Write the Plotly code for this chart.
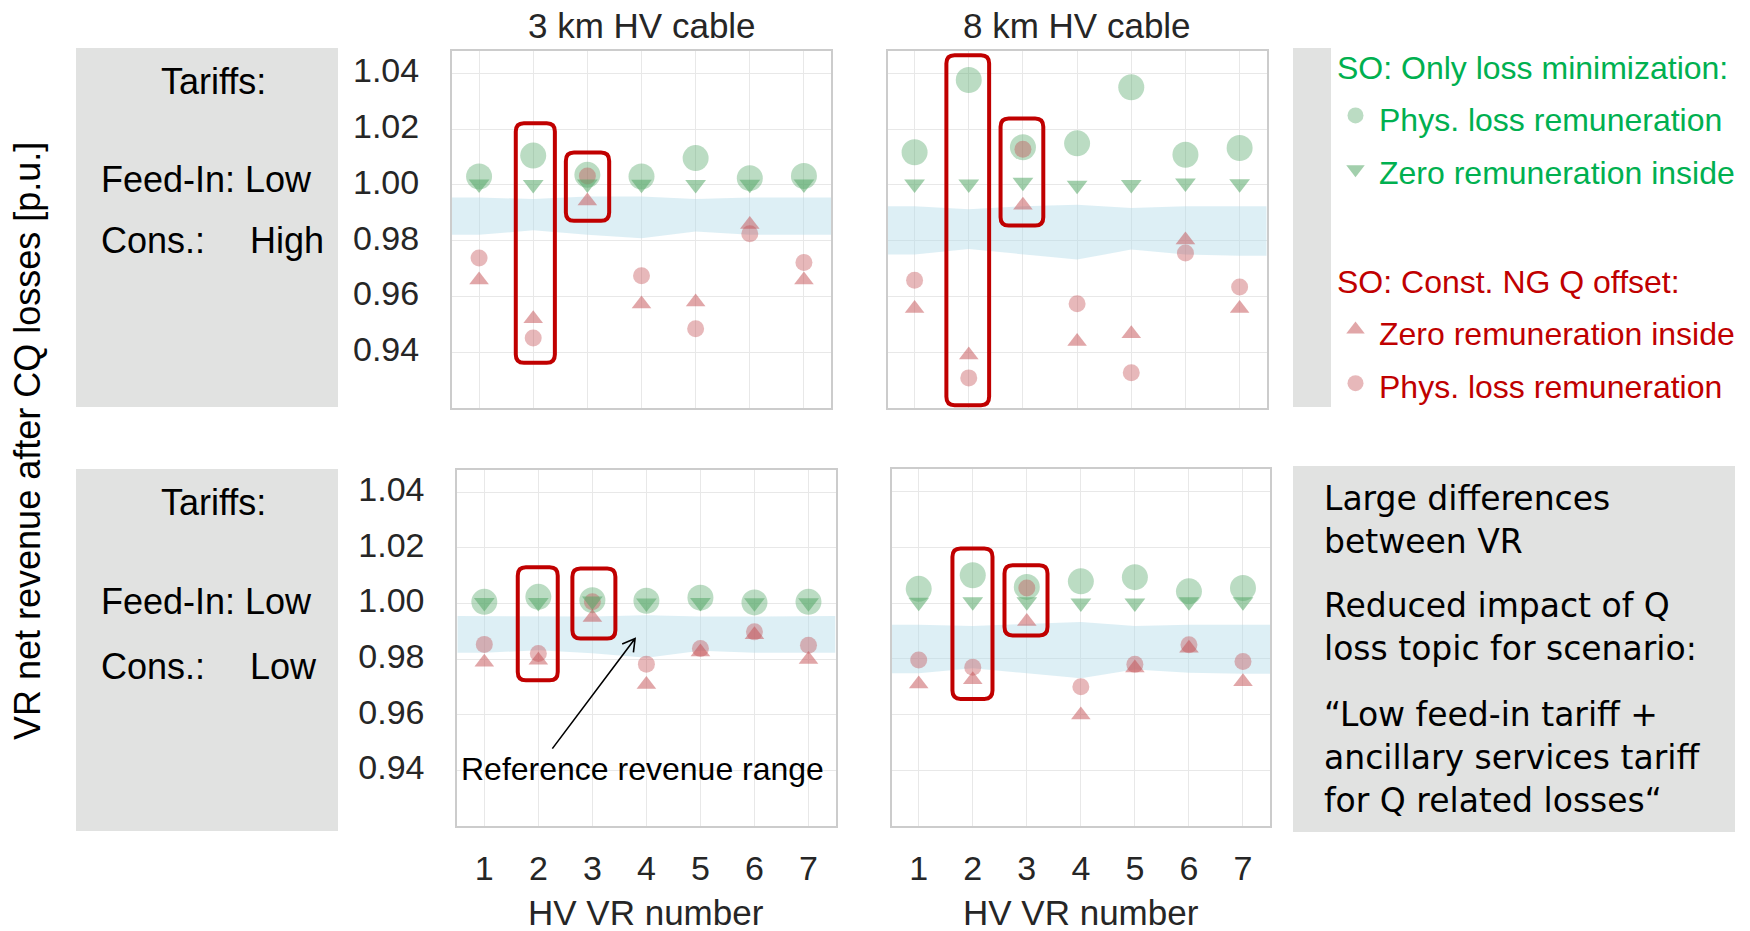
import plotly.graph_objects as go

# ---------------- data ----------------
vr_numbers = [1, 2, 3, 4, 5, 6, 7]
x_tick_labels = ['1', '2', '3', '4', '5', '6', '7']
y_tick_values = [0.94, 0.96, 0.98, 1.00, 1.02, 1.04]
y_tick_labels = ['0.94', '0.96', '0.98', '1.00', '1.02', '1.04']
band_x = [0.5, 1, 2, 3, 4, 5, 6, 7, 7.5]

# 3 km HV cable, Feed-In Low / Cons. High (top left)
tl_band_low = [0.9821, 0.9821, 0.9837, 0.9821, 0.9809, 0.9833, 0.9821, 0.9821, 0.9821]
tl_band_high = [0.9955, 0.9955, 0.9949, 0.9958, 0.9958, 0.9949, 0.9955, 0.9955, 0.9955]
tl_only_phys = [1.0030, 1.0105, 1.0036, 1.0030, 1.0096, 1.0024, 1.0032]
tl_only_zero = [1.0003, 1.0001, 1.0003, 1.0002, 1.0001, 1.0002, 1.0003]
tl_const_zero = [0.9659, 0.9520, 0.9942, 0.9573, 0.9580, 0.9858, 0.9659]
tl_const_phys = [0.9738, 0.9451, 1.0032, 0.9674, 0.9484, 0.9825, 0.9722]

# 8 km HV cable, Feed-In Low / Cons. High (top right)
tr_band_low = [0.9750, 0.9750, 0.9770, 0.9750, 0.9732, 0.9768, 0.9750, 0.9746, 0.9746]
tr_band_high = [0.9923, 0.9923, 0.9913, 0.9923, 0.9929, 0.9917, 0.9923, 0.9923, 0.9923]
tr_only_phys = [1.0117, 1.0376, 1.0135, 1.0149, 1.0350, 1.0108, 1.0132]
tr_only_zero = [1.0003, 1.0003, 1.0009, 0.9999, 1.0001, 1.0007, 1.0004]
tr_const_zero = [0.9557, 0.9390, 0.9927, 0.9438, 0.9466, 0.9802, 0.9557]
tr_const_phys = [0.9658, 0.9308, 1.0128, 0.9574, 0.9326, 0.9756, 0.9634]

# 3 km HV cable, Feed-In Low / Cons. Low (bottom left)
bl_band_low = [0.9823, 0.9823, 0.9832, 0.9821, 0.9805, 0.9830, 0.9823, 0.9823, 0.9823]
bl_band_high = [0.9955, 0.9955, 0.9953, 0.9953, 0.9958, 0.9953, 0.9953, 0.9955, 0.9955]
bl_only_phys = [1.0006, 1.0024, 1.0012, 1.0010, 1.0021, 1.0004, 1.0006]
bl_only_zero = [1.0004, 1.0004, 1.0009, 1.0002, 1.0004, 1.0003, 1.0003]
bl_const_zero = [0.9789, 0.9796, 0.9950, 0.9709, 0.9826, 0.9888, 0.9799]
bl_const_phys = [0.9853, 0.9820, 1.0006, 0.9782, 0.9838, 0.9898, 0.9850]

# 8 km HV cable, Feed-In Low / Cons. Low (bottom right)
br_band_low = [0.9748, 0.9748, 0.9766, 0.9748, 0.9730, 0.9762, 0.9750, 0.9746, 0.9746]
br_band_high = [0.9922, 0.9922, 0.9918, 0.9926, 0.9932, 0.9918, 0.9922, 0.9922, 0.9922]
br_only_phys = [1.0051, 1.0100, 1.0058, 1.0078, 1.0093, 1.0042, 1.0054]
br_only_zero = [1.0003, 1.0005, 1.0005, 1.0000, 1.0000, 1.0005, 1.0005]
br_const_zero = [0.9710, 0.9725, 0.9934, 0.9598, 0.9767, 0.9838, 0.9718]
br_const_phys = [0.9796, 0.9770, 1.0054, 0.9700, 0.9780, 0.9850, 0.9790]

# highlight boxes (x0, x1, y0, y1) per panel
tl_boxes = [(1.678, 2.400, 0.9362, 1.0221), (2.603, 3.403, 0.9871, 1.0116)]
tr_boxes = [(1.587, 2.376, 0.9210, 1.0465), (2.587, 3.376, 0.9854, 1.0238)]
bl_boxes = [(1.619, 2.359, 0.9724, 1.0130), (2.630, 3.426, 0.9874, 1.0126)]
br_boxes = [(1.624, 2.365, 0.9656, 1.0196), (2.587, 3.383, 0.9884, 1.0136)]

# ---------------- style ----------------
W, H = 1750, 931
FONT = 'Liberation Sans, Arial, sans-serif'
GREEN = '#55a868'
RED = '#c44e52'
GREEN_TXT = '#00B050'
RED_TXT = '#C00000'
BAND = 'rgba(173,216,230,0.42)'
GRAY = '#e1e2e1'


def px(x):
    return x / W


def py(y):
    return 1 - y / H


panels = [
    dict(ax='', dom_x=(452, 831), dom_y=(51, 408), data=(tl_band_low, tl_band_high, tl_only_phys, tl_only_zero, tl_const_zero, tl_const_phys), boxes=tl_boxes, ylab=True, xlab=False, legend=True),
    dict(ax='2', dom_x=(887.5, 1266.7), dom_y=(51, 408), data=(tr_band_low, tr_band_high, tr_only_phys, tr_only_zero, tr_const_zero, tr_const_phys), boxes=tr_boxes, ylab=False, xlab=False, legend=False),
    dict(ax='3', dom_x=(457.3, 835.5), dom_y=(470, 826), data=(bl_band_low, bl_band_high, bl_only_phys, bl_only_zero, bl_const_zero, bl_const_phys), boxes=bl_boxes, ylab=True, xlab=True, legend=False),
    dict(ax='4', dom_x=(891.7, 1270), dom_y=(469.3, 826), data=(br_band_low, br_band_high, br_only_phys, br_only_zero, br_const_zero, br_const_phys), boxes=br_boxes, ylab=False, xlab=True, legend=False),
]

fig = go.Figure()
layout = {}
shapes = []


def rounded_rect(x0, x1, y0, y1, rx=0.15, ry=0.003):
    return (f'M{x0 + rx},{y0} L{x1 - rx},{y0} Q{x1},{y0} {x1},{y0 + ry} '
            f'L{x1},{y1 - ry} Q{x1},{y1} {x1 - rx},{y1} L{x0 + rx},{y1} '
            f'Q{x0},{y1} {x0},{y1 - ry} L{x0},{y0 + ry} Q{x0},{y0} {x0 + rx},{y0} Z')


def span(text, color):
    return f"<span style='font-size:32px;color:{color}'>{text}</span>"


for p in panels:
    a = p['ax']
    xa, ya = 'x' + a, 'y' + a
    low, high, only_phys, only_zero, const_zero, const_phys = p['data']
    fig.add_trace(go.Scatter(x=band_x, y=low, mode='lines', line=dict(width=0),
                             hoverinfo='skip', showlegend=False, xaxis=xa, yaxis=ya))
    fig.add_trace(go.Scatter(x=band_x, y=high, mode='lines', line=dict(width=0),
                             fill='tonexty', fillcolor=BAND, hoverinfo='skip',
                             showlegend=False, xaxis=xa, yaxis=ya))
    fig.add_trace(go.Scatter(
        x=vr_numbers, y=only_phys, mode='markers', xaxis=xa, yaxis=ya,
        marker=dict(symbol='circle', size=26, color=GREEN, opacity=0.4, line=dict(width=0)),
        name=span('Phys. loss remuneration', GREEN_TXT), legendgroup='only', legendrank=1,
        legendgrouptitle=dict(text='SO: Only loss minimization:', font=dict(size=32, color=GREEN_TXT, family=FONT)),
        showlegend=p['legend']))
    fig.add_trace(go.Scatter(
        x=vr_numbers, y=const_phys, mode='markers', xaxis=xa, yaxis=ya,
        marker=dict(symbol='circle', size=17, color=RED, opacity=0.4, line=dict(width=0)),
        name=span('Phys. loss remuneration', RED_TXT), legendgroup='const', legendrank=4,
        legendgrouptitle=dict(text='SO: Const. NG Q offset:', font=dict(size=32, color=RED_TXT, family=FONT)),
        showlegend=p['legend']))
    fig.add_trace(go.Scatter(
        x=vr_numbers, y=only_zero, mode='markers', xaxis=xa, yaxis=ya,
        marker=dict(symbol='triangle-down', size=18, color=GREEN, opacity=0.55, line=dict(width=0)),
        name=span('Zero remuneration inside', GREEN_TXT), legendgroup='only', legendrank=2,
        showlegend=p['legend']))
    fig.add_trace(go.Scatter(
        x=vr_numbers, y=const_zero, mode='markers', xaxis=xa, yaxis=ya,
        marker=dict(symbol='triangle-up', size=17, color=RED, opacity=0.5, line=dict(width=0)),
        name=span('Zero remuneration inside', RED_TXT), legendgroup='const', legendrank=3,
        showlegend=p['legend']))

    axis_common = dict(showline=True, mirror=True, linecolor='#cccccc', linewidth=2,
                       showgrid=True, gridcolor='#e8e8e8', gridwidth=1, zeroline=False,
                       ticks='', tickfont=dict(size=34, color='#262626', family=FONT))
    layout['xaxis' + a] = dict(axis_common, domain=[px(p['dom_x'][0]), px(p['dom_x'][1])],
                               range=[0.5, 7.5], tickvals=vr_numbers, ticktext=x_tick_labels,
                               showticklabels=p['xlab'], ticklabelstandoff=11,
                               anchor=ya)
    layout['yaxis' + a] = dict(axis_common, domain=[py(p['dom_y'][1]), py(p['dom_y'][0])],
                               range=[0.9200, 1.0480], tickvals=y_tick_values, ticktext=y_tick_labels,
                               showticklabels=p['ylab'], ticklabelstandoff=24, ticklabelshift=-3,
                               anchor=xa)
    for (x0, x1, y0, y1) in p['boxes']:
        shapes.append(dict(type='path', path=rounded_rect(x0, x1, y0, y1), xref=xa, yref=ya,
                           line=dict(color='#c00000', width=4), layer='above'))

# gray background boxes
for (x0, y0, x1, y1) in [(76, 48, 338, 407), (76, 469, 338, 831), (1293, 48, 1331, 407), (1293, 466, 1735, 832)]:
    shapes.append(dict(type='rect', xref='paper', yref='paper', x0=px(x0), x1=px(x1), y0=py(y1), y1=py(y0),
                       fillcolor=GRAY, line=dict(width=0), layer='below'))

# arrow to the reference revenue range (bottom-left panel)
shapes.append(dict(type='path', xref='x3', yref='y3', layer='above',
                   path='M2.2593,0.94782 L3.7907,0.98743 M3.5519,0.98545 L3.7907,0.98743 L3.7593,0.98242',
                   line=dict(color='black', width=1.6)))

annotations = []


def ann(text, x, y, size, color='black', xanchor='center', family=FONT, **kw):
    annotations.append(dict(text=text, x=px(x), y=py(y), xref='paper', yref='paper', showarrow=False,
                            xanchor=xanchor, yanchor='middle', font=dict(size=size, color=color, family=family), **kw))


ann('3 km HV cable', 641.5, 25, 35, '#262626')
ann('8 km HV cable', 1077, 25, 35, '#262626')
ann('HV VR number', 646.4, 912, 35, '#262626')
ann('HV VR number', 1081, 912, 35, '#262626')
ann('VR net revenue after CQ losses [p.u.]', 28, 441, 36, textangle=-90)

ann('Tariffs:', 213, 82, 36)
ann('Feed-In: Low', 99, 180, 36, xanchor='left')
ann('Cons.:', 99, 241, 36, xanchor='left')
ann('High', 248, 241, 36, xanchor='left')
ann('Tariffs:', 213, 502, 36)
ann('Feed-In: Low', 99, 601, 36, xanchor='left')
ann('Cons.:', 99, 666, 36, xanchor='left')
ann('Low', 248, 666, 36, xanchor='left')

BOX_FONT = 'DejaVu Sans, sans-serif'
ann('Large differences<br>between VR', 1322, 520, 33, xanchor='left', family=BOX_FONT, align='left')
ann('Reduced impact of Q<br>loss topic for scenario:', 1322, 626.5, 33, xanchor='left', family=BOX_FONT, align='left')
ann('\u201cLow feed-in tariff +<br>ancillary services tariff<br>for Q related losses\u201c', 1322, 757, 33,
    xanchor='left', family=BOX_FONT, align='left')

annotations.append(dict(text='Reference revenue range', x=3.924, y=0.9406, xref='x3', yref='y3', showarrow=False,
                        xanchor='center', yanchor='middle', font=dict(size=32, color='black', family=FONT)))

fig.update_layout(
    **layout,
    width=W, height=H,
    margin=dict(l=0, r=0, t=0, b=0),
    paper_bgcolor='white', plot_bgcolor='white',
    font=dict(family=FONT, color='black'),
    shapes=shapes, annotations=annotations,
    showlegend=True,
    legend=dict(x=px(1332), y=py(39), xanchor='left', yanchor='top', bgcolor='rgba(0,0,0,0)',
                font=dict(size=39, family=FONT), itemsizing='trace', tracegroupgap=62,
                itemwidth=37, traceorder='grouped'),
)

fig.write_html('out.html')
